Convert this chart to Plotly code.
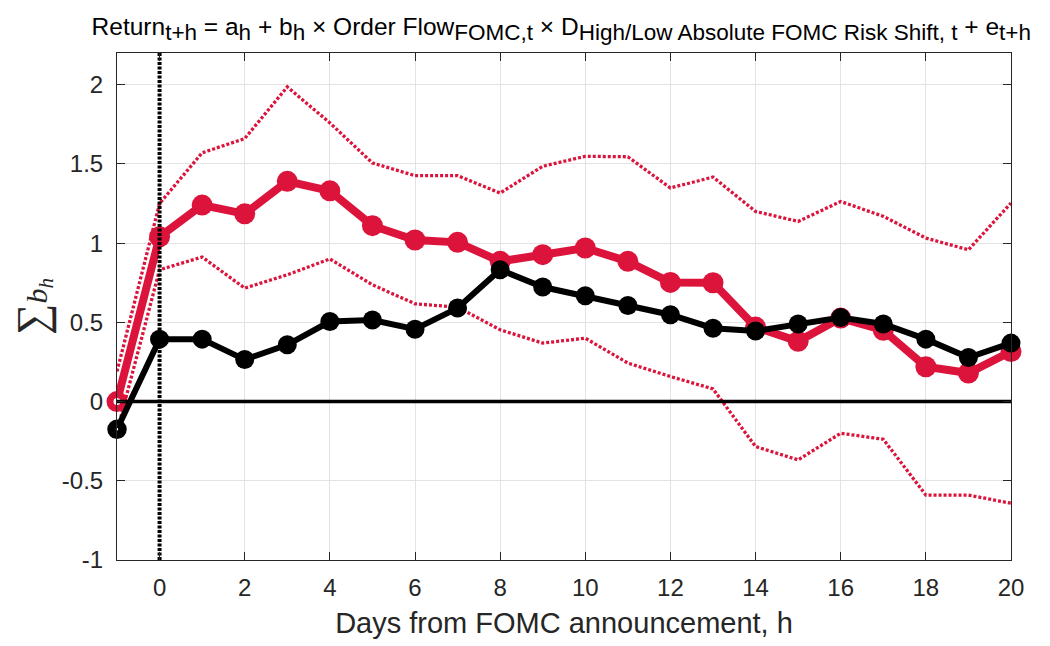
import plotly.graph_objects as go

# ---- data ----
h = list(range(-1, 21))
red_est = [0.00, 1.04, 1.24, 1.185, 1.39, 1.33, 1.11, 1.02, 1.005, 0.885, 0.927,
           0.969, 0.885, 0.752, 0.75, 0.47, 0.38, 0.527, 0.45, 0.22, 0.18, 0.316]
black_est = [-0.175, 0.394, 0.394, 0.265, 0.358, 0.505, 0.515, 0.457, 0.59, 0.832, 0.723,
             0.668, 0.606, 0.548, 0.463, 0.445, 0.49, 0.53, 0.49, 0.394, 0.278, 0.369]
red_upper = [0.19, 1.25, 1.57, 1.66, 1.986, 1.759, 1.506, 1.426, 1.426, 1.316, 1.485,
             1.548, 1.545, 1.348, 1.417, 1.2, 1.137, 1.263, 1.169, 1.032, 0.958, 1.253]
red_lower = [-0.19, 0.832, 0.912, 0.716, 0.8, 0.9, 0.737, 0.617, 0.596, 0.453, 0.369,
             0.4, 0.243, 0.158, 0.08, -0.284, -0.368, -0.2, -0.238, -0.59, -0.59, -0.642]
x_ticks = list(range(0, 21, 2))
y_ticks = [-1, -0.5, 0, 0.5, 1, 1.5, 2]
y_ticklabels = ["-1", "-0.5", "0", "0.5", "1", "1.5", "2"]

RED = "#DC143C"
BLACK = "#000000"
FONT = "Liberation Sans, Arial, sans-serif"
n = len(h)

fig = go.Figure()

# confidence bands (dotted)
for ci in (red_upper, red_lower):
    fig.add_trace(go.Scatter(x=h, y=ci, mode="lines",
                             line=dict(color=RED, width=3.3, dash="3px,2px"),
                             hoverinfo="skip", showlegend=False, cliponaxis=False))

# red estimate
fig.add_trace(go.Scatter(
    x=h, y=red_est, mode="lines+markers", cliponaxis=False,
    line=dict(color=RED, width=8),
    marker=dict(size=[14] + [21] * (n - 1), color=["white"] + [RED] * (n - 1),
                opacity=1,
                line=dict(color=RED, width=[7] + [0] * (n - 1))),
    showlegend=False))

# black estimate
fig.add_trace(go.Scatter(
    x=h, y=black_est, mode="lines+markers", cliponaxis=False,
    line=dict(color=BLACK, width=6),
    marker=dict(size=[11] + [19] * (n - 1), color=["white"] + [BLACK] * (n - 1),
                opacity=1,
                line=dict(color=BLACK, width=[8.5] + [0] * (n - 1))),
    showlegend=False))

# zero line
fig.add_trace(go.Scatter(x=[h[0], h[-1]], y=[0, 0], mode="lines",
                         line=dict(color=BLACK, width=3.5),
                         hoverinfo="skip", showlegend=False))
# announcement line
fig.add_trace(go.Scatter(x=[0, 0], y=[-1, 2.2], mode="lines",
                         line=dict(color=BLACK, width=4, dash="3px,1.5px"),
                         hoverinfo="skip", showlegend=False))


def sub(s):
    return '<sub><span style="font-size:22.5px">' + s + '</span></sub>'


title = ("Return" + sub("t+h") + " = a" + sub("h") + " + b" + sub("h") +
         " \u00d7 Order Flow" + sub("FOMC,t") + " \u00d7 D" +
         sub("High/Low Absolute FOMC Risk Shift, t") + " + e" + sub("t+h"))

fig.update_layout(
    width=1042, height=638,
    paper_bgcolor="white", plot_bgcolor="white",
    margin=dict(l=109, r=39, t=45, b=86),
    font=dict(family=FONT, size=24, color="#262626"),
    title=dict(text=title, x=0.531, xanchor="center", y=0.985, yanchor="top",
               font=dict(family=FONT, size=24.5, color="#000000")),
    xaxis=dict(range=[-1, 20], tickvals=x_ticks, ticks="inside", ticklen=8,
               tickcolor="#262626", showline=True, linecolor="#262626", linewidth=1,
               mirror="ticks", showgrid=True, gridcolor="#e3e3e3", gridwidth=1,
               zeroline=False, ticklabelstandoff=6,
               tickfont=dict(size=24, color="#262626"),
               title=dict(text="Days from FOMC announcement, h", standoff=12,
                          font=dict(size=29, color="#262626"))),
    yaxis=dict(range=[-1, 2.2], tickvals=y_ticks, ticktext=y_ticklabels,
               ticks="inside", ticklen=8, tickcolor="#262626",
               showline=True, linecolor="#262626", linewidth=1, mirror="ticks",
               showgrid=True, gridcolor="#e3e3e3", gridwidth=1, zeroline=False,
               ticklabelstandoff=8,
               tickfont=dict(size=24, color="#262626"),
               title=dict(text='<span style="font-size:44px">\u2211</span><i>b<sub>h</sub></i>',
                          standoff=8,
                          font=dict(family="Liberation Serif, DejaVu Serif, serif",
                                    size=30, color="#262626"))),
)

fig.write_html("out.html")
